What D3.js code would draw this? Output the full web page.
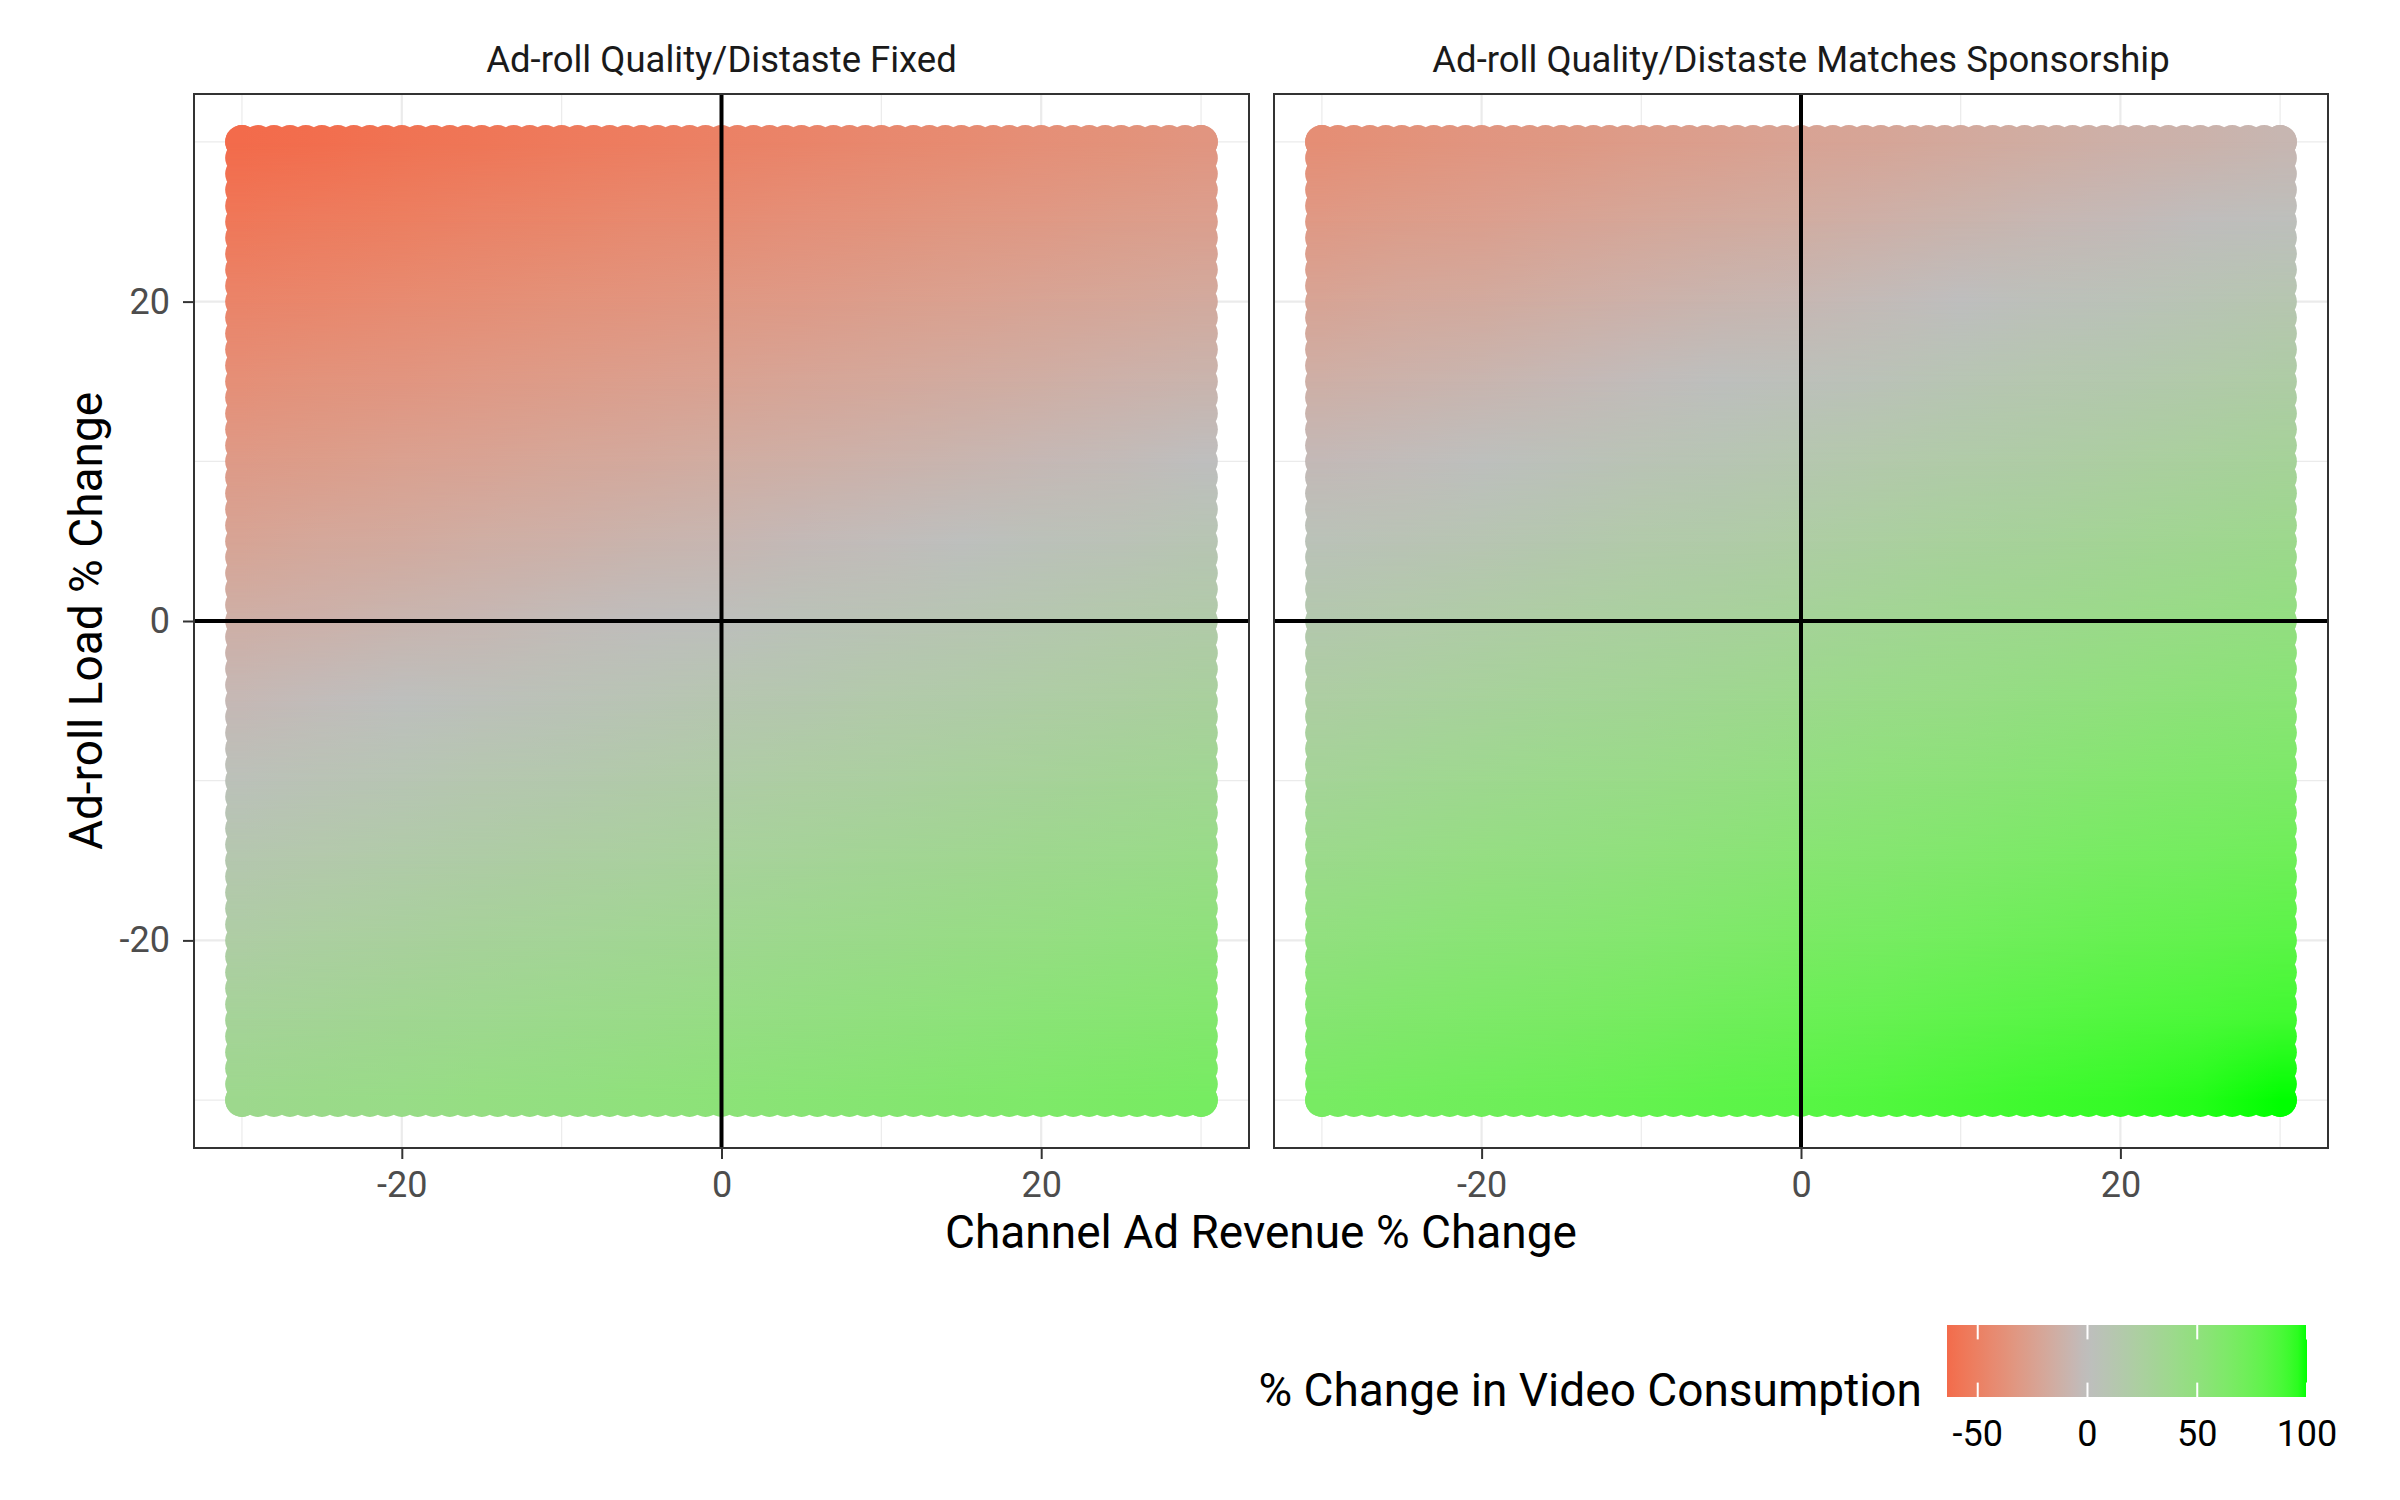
<!DOCTYPE html>
<html><head><meta charset="utf-8">
<script src="https://cdn.jsdelivr.net/npm/d3@7"></script>
<style>
html,body{margin:0;padding:0;background:#fff;}
svg{display:block;}
text{font-family:Roboto,"Noto Sans",sans-serif;}
</style>
</head><body>
<svg id="chart" width="2400" height="1500"></svg>
<script>
// ---------------- data ----------------
const panelTitles = ["Ad-roll Quality/Distaste Fixed", "Ad-roll Quality/Distaste Matches Sponsorship"];
// channel ad revenue % change (columns) and ad-roll load % change (rows, top to bottom)
const revenueLevels = [-30, -25, -20, -15, -10, -5, 0, 5, 10, 15, 20, 25, 30];
const adLoadLevels  = [30, 25, 20, 15, 10, 5, 0, -5, -10, -15, -20, -25, -30];
// % change in video consumption, panel 1 (quality/distaste fixed)
const consumptionFixed = [
  [-64, -62, -59, -57, -54, -52, -49, -47, -44, -42, -39, -37, -34],
  [-56, -53, -51, -48, -46, -43, -41, -38, -36, -33, -31, -28, -26],
  [-47, -45, -42, -40, -37, -35, -32, -30, -27, -25, -22, -20, -17],
  [-39, -36, -34, -31, -29, -26, -24, -21, -19, -16, -14, -11,  -9],
  [-30, -28, -25, -23, -20, -18, -15, -13, -10,  -8,  -5,  -3,   0],
  [-22, -19, -17, -14, -12,  -9,  -7,  -4,  -2,   1,   4,   6,   9],
  [-13, -11,  -8,  -6,  -3,  -1,   2,   5,   7,  10,  12,  15,  17],
  [ -5,  -2,   1,   3,   6,   8,  11,  13,  16,  18,  21,  23,  26],
  [  4,   7,   9,  12,  14,  17,  19,  22,  24,  27,  29,  32,  34],
  [ 13,  15,  18,  20,  23,  25,  28,  30,  33,  35,  38,  40,  43],
  [ 21,  24,  26,  29,  31,  34,  36,  39,  41,  44,  46,  49,  51],
  [ 30,  32,  35,  37,  40,  42,  45,  47,  50,  52,  55,  57,  60],
  [ 38,  41,  43,  46,  48,  51,  53,  56,  58,  61,  63,  66,  68]
];
// % change in video consumption, panel 2 (quality/distaste matches sponsorship)
const consumptionMatched = [
  [-40, -37, -34, -32, -29, -26, -23, -21, -18, -15, -12, -10,  -7],
  [-31, -28, -26, -23, -20, -17, -15, -12,  -9,  -6,  -4,  -1,   2],
  [-22, -19, -17, -14, -11,  -8,  -6,  -3,   0,   3,   5,   8,  11],
  [-13, -10,  -8,  -5,  -2,   1,   3,   6,   9,  12,  14,  17,  20],
  [ -4,  -2,   1,   4,   7,   9,  12,  15,  18,  20,  23,  26,  29],
  [  5,   7,  10,  13,  16,  18,  21,  24,  27,  29,  32,  35,  38],
  [ 14,  16,  19,  22,  25,  27,  30,  33,  36,  38,  41,  44,  47],
  [ 22,  25,  28,  31,  33,  36,  39,  42,  44,  47,  50,  53,  55],
  [ 31,  34,  37,  40,  42,  45,  48,  51,  53,  56,  59,  62,  64],
  [ 40,  43,  46,  48,  51,  54,  57,  59,  62,  65,  68,  70,  73],
  [ 49,  52,  55,  57,  60,  63,  66,  68,  71,  74,  77,  79,  82],
  [ 58,  61,  64,  66,  69,  72,  75,  77,  80,  83,  86,  88,  91],
  [ 67,  70,  72,  75,  78,  81,  83,  86,  89,  92,  94,  97, 100]
];
const axisTicks   = [-20, 0, 20];
const minorTicks  = [-30, -10, 10, 30];
const legendTicks = [-50, 0, 50, 100];
const legendLimits = [-64, 100];
const xTitle = "Channel Ad Revenue % Change";
const yTitle = "Ad-roll Load % Change";
const legendTitle = "% Change in Video Consumption";
const markerSpacing = 1; // spacing of the simulated grid (gives the scalloped outline)

// ---------------- drawing ----------------
const svg = d3.select("#chart");
const defs = svg.append("defs");
const color = d3.scaleLinear().domain([-100, 0, 100])
  .range(["#FF0000", "#BEBEBE", "#00FF00"]).interpolate(d3.interpolateLab).clamp(true);

const panelTop = 94, panelBottom = 1148;
const panelX = [[194, 1249], [1274, 2328]];
const domain = [-33, 33];
const R = 16.8; // marker radius
const y = d3.scaleLinear().domain(domain).range([panelBottom, panelTop]);

// vertical alpha fade used to blend neighbouring rows
const fg = defs.append("linearGradient").attr("id", "fadeGrad")
  .attr("x1", 0).attr("y1", 0).attr("x2", 0).attr("y2", 1);
fg.append("stop").attr("offset", 0).attr("stop-color", "#fff").attr("stop-opacity", 0);
fg.append("stop").attr("offset", 1).attr("stop-color", "#fff").attr("stop-opacity", 1);
defs.append("mask").attr("id", "fade").attr("maskContentUnits", "objectBoundingBox")
  .style("mask-type", "alpha")
  .append("rect").attr("x", 0).attr("y", 0).attr("width", 1).attr("height", 1)
  .attr("fill", "url(#fadeGrad)");

const datasets = [consumptionFixed, consumptionMatched];
const xMin = revenueLevels[0], xMax = revenueLevels[revenueLevels.length - 1];
const yMax = adLoadLevels[0], yMin = adLoadLevels[adLoadLevels.length - 1];
const edgeX = d3.range(xMin, xMax + markerSpacing / 2, markerSpacing);
const edgeY = d3.range(yMin, yMax + markerSpacing / 2, markerSpacing);

datasets.forEach((vals, p) => {
  const x = d3.scaleLinear().domain(domain).range(panelX[p]);
  const g = svg.append("g");
  const [px0, px1] = panelX[p];

  // grid
  const grid = g.append("g");
  minorTicks.forEach(t => {
    grid.append("line").attr("x1", x(t)).attr("x2", x(t)).attr("y1", panelTop).attr("y2", panelBottom)
      .attr("stroke", "#EBEBEB").attr("stroke-width", 1.2);
    grid.append("line").attr("y1", y(t)).attr("y2", y(t)).attr("x1", px0).attr("x2", px1)
      .attr("stroke", "#EBEBEB").attr("stroke-width", 1.2);
  });
  axisTicks.forEach(t => {
    grid.append("line").attr("x1", x(t)).attr("x2", x(t)).attr("y1", panelTop).attr("y2", panelBottom)
      .attr("stroke", "#EBEBEB").attr("stroke-width", 2.2);
    grid.append("line").attr("y1", y(t)).attr("y2", y(t)).attr("x1", px0).attr("x2", px1)
      .attr("stroke", "#EBEBEB").attr("stroke-width", 2.2);
  });

  // row gradients
  vals.forEach((row, i) => {
    const lg = defs.append("linearGradient").attr("id", `g${p}_${i}`)
      .attr("gradientUnits", "userSpaceOnUse")
      .attr("x1", x(xMin)).attr("x2", x(xMax))
      .attr("y1", 0).attr("y2", 0);
    row.forEach((v, k) => {
      lg.append("stop")
        .attr("offset", (revenueLevels[k] - xMin) / (xMax - xMin))
        .attr("stop-color", color(v));
    });
  });

  // outline of the marker grid (inner rectangle + edge markers)
  const clip = defs.append("clipPath").attr("id", `clip${p}`);
  clip.append("rect").attr("x", x(xMin)).attr("y", y(yMax))
    .attr("width", x(xMax) - x(xMin)).attr("height", y(yMin) - y(yMax));
  edgeX.forEach(v => {
    clip.append("circle").attr("cx", x(v)).attr("cy", y(yMax)).attr("r", R);
    clip.append("circle").attr("cx", x(v)).attr("cy", y(yMin)).attr("r", R);
  });
  edgeY.forEach(v => {
    clip.append("circle").attr("cx", x(xMin)).attr("cy", y(v)).attr("r", R);
    clip.append("circle").attr("cx", x(xMax)).attr("cy", y(v)).attr("r", R);
  });

  const xl = x(xMin) - R, xr = x(xMax) + R;
  const yt = y(yMax) - R, yb = y(yMin) + R;
  const field = g.append("g").attr("clip-path", `url(#clip${p})`);
  const n = adLoadLevels.length;
  field.append("rect").attr("x", xl - 2).attr("width", xr - xl + 4)
    .attr("y", yt - 2).attr("height", y(adLoadLevels[0]) - yt + 2.5)
    .attr("fill", `url(#g${p}_0)`);
  for (let i = 0; i < n - 1; i++) {
    const a = y(adLoadLevels[i]), b = y(adLoadLevels[i + 1]);
    field.append("rect").attr("x", xl - 2).attr("width", xr - xl + 4)
      .attr("y", a - 0.5).attr("height", b - a + 1)
      .attr("fill", `url(#g${p}_${i})`);
    field.append("rect").attr("x", xl - 2).attr("width", xr - xl + 4)
      .attr("y", a).attr("height", b - a)
      .attr("fill", `url(#g${p}_${i + 1})`).attr("mask", "url(#fade)");
  }
  field.append("rect").attr("x", xl - 2).attr("width", xr - xl + 4)
    .attr("y", y(adLoadLevels[n - 1]) - 0.5).attr("height", yb - y(adLoadLevels[n - 1]) + 2.5)
    .attr("fill", `url(#g${p}_${n - 1})`);

  // reference lines
  g.append("line").attr("x1", x(0)).attr("x2", x(0)).attr("y1", panelTop).attr("y2", panelBottom)
    .attr("stroke", "#000").attr("stroke-width", 4);
  g.append("line").attr("y1", y(0)).attr("y2", y(0)).attr("x1", px0).attr("x2", px1)
    .attr("stroke", "#000").attr("stroke-width", 4);

  // panel border
  g.append("rect").attr("x", px0).attr("y", panelTop).attr("width", px1 - px0).attr("height", panelBottom - panelTop)
    .attr("fill", "none").attr("stroke", "#333333").attr("stroke-width", 2);

  // x axis
  const ax = g.append("g").attr("transform", `translate(0,${panelBottom})`)
    .call(d3.axisBottom(x).tickValues(axisTicks).tickSize(11).tickPadding(12.5).tickFormat(d => String(d)));
  ax.select(".domain").remove();
  ax.selectAll(".tick line").attr("stroke", "#333333").attr("stroke-width", 2);
  ax.selectAll(".tick text").attr("fill", "#4D4D4D").style("font-size", "36px").style("font-family", "Roboto");

  if (p === 0) {
    const ay = g.append("g").attr("transform", `translate(${px0},0)`)
      .call(d3.axisLeft(y).tickValues(axisTicks).tickSize(11).tickPadding(13).tickFormat(d => String(d)));
    ay.select(".domain").remove();
    ay.selectAll(".tick line").attr("stroke", "#333333").attr("stroke-width", 2);
    ay.selectAll(".tick text").attr("fill", "#4D4D4D").style("font-size", "36px").style("font-family", "Roboto");
  }

  // strip title
  g.append("text").attr("x", (px0 + px1) / 2).attr("y", 72).attr("text-anchor", "middle")
    .attr("fill", "#1A1A1A").style("font-size", "36.5px").text(panelTitles[p]);
});

// axis titles
svg.append("text").attr("x", (panelX[0][0] + panelX[1][1]) / 2).attr("y", 1248)
  .attr("text-anchor", "middle").attr("fill", "#000").style("font-size", "46px").text(xTitle);
svg.append("text").attr("transform", `translate(102,${(panelTop + panelBottom) / 2}) rotate(-90)`)
  .attr("text-anchor", "middle").attr("fill", "#000").style("font-size", "46px").text(yTitle);

// legend
const lx = d3.scaleLinear().domain(legendLimits).range([1947, 2307]);
const lTop = 1325, lBot = 1397;
const lgLeg = defs.append("linearGradient").attr("id", "legendGrad")
  .attr("gradientUnits", "userSpaceOnUse").attr("x1", lx(legendLimits[0])).attr("x2", lx(legendLimits[1]))
  .attr("y1", 0).attr("y2", 0);
d3.range(0, 41).forEach(k => {
  const v = legendLimits[0] + (legendLimits[1] - legendLimits[0]) * k / 40;
  lgLeg.append("stop").attr("offset", k / 40).attr("stop-color", color(v));
});
svg.append("rect").attr("x", lx(legendLimits[0])).attr("y", lTop)
  .attr("width", lx(legendLimits[1]) - lx(legendLimits[0])).attr("height", lBot - lTop)
  .attr("fill", "url(#legendGrad)");
const tl = (lBot - lTop) / 5;
legendTicks.forEach(t => {
  svg.append("line").attr("x1", lx(t)).attr("x2", lx(t)).attr("y1", lTop).attr("y2", lTop + tl)
    .attr("stroke", "#fff").attr("stroke-width", 2);
  svg.append("line").attr("x1", lx(t)).attr("x2", lx(t)).attr("y1", lBot - tl).attr("y2", lBot)
    .attr("stroke", "#fff").attr("stroke-width", 2);
  svg.append("text").attr("x", lx(t)).attr("y", 1446).attr("text-anchor", "middle")
    .attr("fill", "#000").style("font-size", "36px").text(String(t));
});
svg.append("text").attr("x", 1922).attr("y", 1406).attr("text-anchor", "end")
  .attr("fill", "#000").style("font-size", "46px").text(legendTitle);
</script>
</body></html>
